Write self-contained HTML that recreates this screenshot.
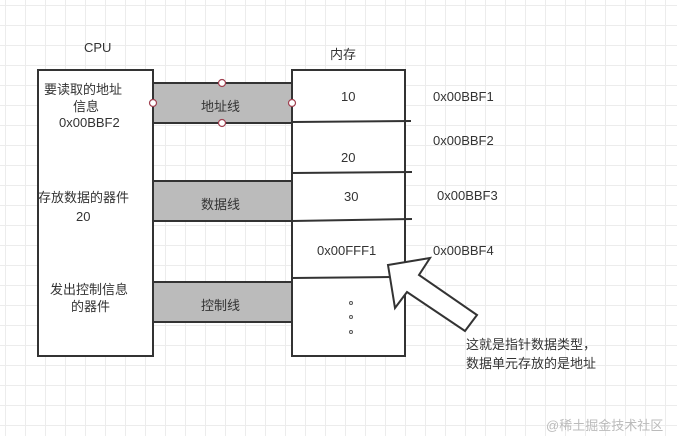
<!DOCTYPE html>
<html><head><meta charset="utf-8"><style>
body{margin:0;width:677px;height:436px;overflow:hidden;background:#fff;
background-image:linear-gradient(#ececec 1px,transparent 1px),linear-gradient(90deg,#ececec 1px,transparent 1px);background-size:20px 20px;background-position:5px 5px;
font-family:"Liberation Sans","Noto Sans CJK SC",sans-serif;color:#333;font-size:13px}
.a{position:absolute;white-space:nowrap}
</style></head><body>
<svg width="677" height="436" style="position:absolute;left:0;top:0">
<g stroke="#333" stroke-width="2">
<rect x="153" y="83" width="139" height="40" fill="#bbb"/>
<rect x="153" y="181" width="139" height="40" fill="#bbb"/>
<rect x="153" y="282" width="139" height="40" fill="#bbb"/>
<rect x="38" y="70" width="115" height="286" fill="#fff"/>
<rect x="292" y="70" width="113" height="286" fill="#fff"/>
<line x1="292" y1="122" x2="411" y2="121"/>
<line x1="292" y1="173" x2="412" y2="172"/>
<line x1="292" y1="221" x2="412" y2="219"/>
<line x1="292" y1="278" x2="392" y2="277"/>
<polygon points="388,265 430,258 419,275 477,315 465,331 407,292 395,308" fill="#fff"/>
</g>
<g fill="#fff" stroke="#a04050" stroke-width="1.2">
<circle cx="222" cy="83" r="3.5"/><circle cx="222" cy="123" r="3.5"/>
<circle cx="153" cy="103" r="3.5"/><circle cx="292" cy="103" r="3.5"/>
</g>
<g fill="none" stroke="#555"><circle cx="351" cy="303" r="1.5"/><circle cx="351" cy="317" r="1.5"/><circle cx="351" cy="332" r="1.5"/></g>
</svg>
<div class="a" style="left:84px;top:40px">CPU</div>
<div class="a" style="left:330px;top:44px">内存</div>
<div class="a" style="left:44px;top:79px">要读取的地址</div>
<div class="a" style="left:73px;top:96px">信息</div>
<div class="a" style="left:59px;top:115px">0x00BBF2</div>
<div class="a" style="left:38px;top:187px">存放数据的器件</div>
<div class="a" style="left:76px;top:209px">20</div>
<div class="a" style="left:50px;top:279px">发出控制信息</div>
<div class="a" style="left:71px;top:296px">的器件</div>
<div class="a" style="left:201px;top:96px">地址线</div>
<div class="a" style="left:201px;top:194px">数据线</div>
<div class="a" style="left:201px;top:295px">控制线</div>
<div class="a" style="left:341px;top:89px">10</div>
<div class="a" style="left:341px;top:150px">20</div>
<div class="a" style="left:344px;top:189px">30</div>
<div class="a" style="left:317px;top:243px">0x00FFF1</div>
<div class="a" style="left:433px;top:89px">0x00BBF1</div>
<div class="a" style="left:433px;top:133px">0x00BBF2</div>
<div class="a" style="left:437px;top:188px">0x00BBF3</div>
<div class="a" style="left:433px;top:243px">0x00BBF4</div>
<div class="a" style="left:466px;top:334px">这就是指针数据类型，</div>
<div class="a" style="left:466px;top:353px">数据单元存放的是地址</div>
<div class="a" style="left:546px;top:415px;color:#bbb">@稀土掘金技术社区</div>
</body></html>
